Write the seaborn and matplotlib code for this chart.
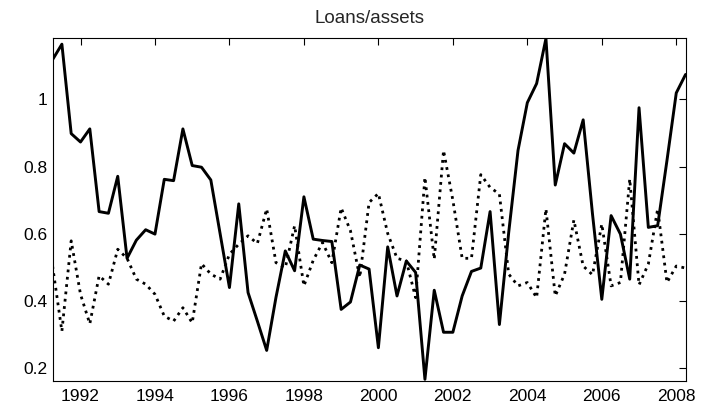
import numpy as np
import pandas as pd
import seaborn as sns
import matplotlib
matplotlib.use("Agg")
import matplotlib.pyplot as plt
from matplotlib.ticker import FuncFormatter

# quarterly observations, 1991Q2 .. 2008Q2
start_year = 1991.25
solid = [1.118, 1.164, 0.898, 0.873, 0.912, 0.666, 0.661, 0.771, 0.527, 0.581,
         0.612, 0.599, 0.762, 0.758, 0.912, 0.803, 0.798, 0.760, 0.600, 0.440,
         0.689, 0.425, 0.340, 0.253, 0.411, 0.549, 0.490, 0.710, 0.584, 0.580,
         0.577, 0.375, 0.397, 0.507, 0.495, 0.261, 0.561, 0.415, 0.519, 0.485,
         0.167, 0.432, 0.307, 0.307, 0.415, 0.488, 0.498, 0.666, 0.330, 0.604,
         0.848, 0.990, 1.047, 1.181, 0.745, 0.868, 0.840, 0.939, 0.659, 0.405,
         0.654, 0.599, 0.465, 0.975, 0.619, 0.624, 0.818, 1.019, 1.074]
dotted = [0.504, 0.310, 0.579, 0.420, 0.332, 0.475, 0.450, 0.554, 0.527, 0.465,
          0.450, 0.420, 0.355, 0.340, 0.380, 0.335, 0.511, 0.480, 0.465, 0.539,
          0.569, 0.594, 0.571, 0.674, 0.514, 0.499, 0.624, 0.445, 0.521, 0.574,
          0.514, 0.677, 0.609, 0.470, 0.693, 0.720, 0.601, 0.527, 0.519, 0.410,
          0.768, 0.524, 0.848, 0.700, 0.527, 0.527, 0.776, 0.738, 0.718, 0.480,
          0.445, 0.455, 0.410, 0.674, 0.415, 0.480, 0.641, 0.504, 0.478, 0.629,
          0.445, 0.455, 0.763, 0.448, 0.510, 0.674, 0.455, 0.504, 0.498]
years = [1992, 1994, 1996, 1998, 2000, 2002, 2004, 2006, 2008]
yticks = [0.2, 0.4, 0.6, 0.8, 1.0]

t = start_year + 0.25 * np.arange(len(solid))
df = pd.DataFrame({"t": t, "solid": solid, "dotted": dotted})

sns.set_style("white")
plt.rcParams["font.family"] = ["Liberation Sans", "DejaVu Sans"]

fig = plt.figure(figsize=(7.01, 4.11), dpi=100)
ax = fig.add_axes([0.075, 0.073, 0.903, 0.835])

sns.lineplot(data=df, x="t", y="solid", ax=ax, color="black", linewidth=2.1)
sns.lineplot(data=df, x="t", y="dotted", ax=ax, color="black", linewidth=2.0,
             linestyle=":")

ax.set_xlim(t[0], t[-1])
ax.set_ylim(min(solid + dotted) - 0.005, max(solid + dotted) + 0.002)
ax.set_xticks(years)
ax.set_yticks(yticks)
ax.yaxis.set_major_formatter(FuncFormatter(lambda v, p: f"{v:g}"))
ax.set_xlabel("")
ax.set_ylabel("")
ax.set_title("Loans/assets", fontsize=13.5, pad=10.5)
ax.tick_params(direction="in", length=5, width=0.8, top=True, right=True,
               labelsize=12.5, colors="black")
ax.tick_params(axis="x", pad=6)
ax.tick_params(axis="y", pad=3.5)
for s in ax.spines.values():
    s.set_color("black")
    s.set_linewidth(0.8)

fig.savefig("out.png", dpi=100)
